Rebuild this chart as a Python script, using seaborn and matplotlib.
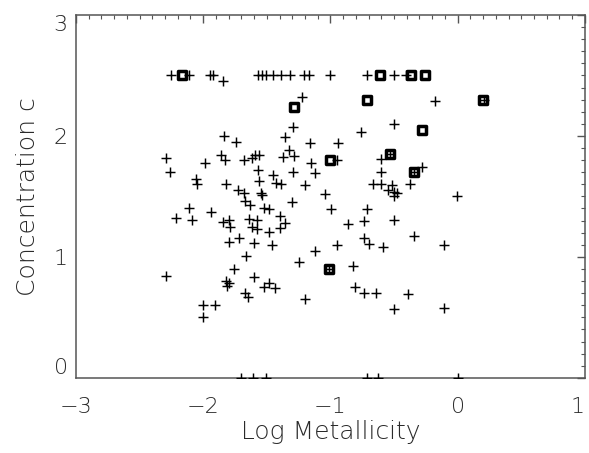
import matplotlib
matplotlib.use("Agg")
import matplotlib.pyplot as plt
import seaborn as sns
import numpy as np
from matplotlib.ticker import MultipleLocator

# ---- data ----
plus_x = [
    -2.25, -2.115, -1.95, -1.92, -1.57, -1.535, -1.505, -1.45, -1.385, -1.32,
    -1.205, -1.165, -1.00, -0.71, -0.50, -0.405, -1.846,
    -1.222, -0.175, 0.21, -0.50, -0.76, -1.296, -1.354, -1.84, -1.746,
    -1.160, -0.943, -1.322, -1.29, -1.374, -0.95, -0.531, -0.60, -1.152,
    -1.291, -1.118, -0.602, -0.346, -0.28, -1.387, -1.20, -0.662, -0.602,
    -0.518, -0.374, -0.55, -0.497, -0.48, -0.503, -0.005, -1.039, -1.301,
    -0.995, -0.712, -1.393, -1.354, -1.393, -0.861, -0.733, -0.503, -0.346,
    -0.733, -0.699, -0.950, -0.584, -0.104, -1.118, -1.244, -1.013, -0.819,
    -0.804, -0.733, -0.641, -0.393, -0.503, -0.104, -1.202,
    -2.291, -1.987, -1.859, -1.825, -1.676, -1.615, -1.590, -1.563, -2.259,
    -2.06, -2.047, -1.819, -1.571, -1.558, -1.448, -1.427, -1.728, -1.676,
    -1.545, -1.537, -1.668, -1.631, -1.519, -1.480, -2.115, -2.215, -2.086,
    -1.937, -1.846, -1.799, -1.788, -1.642, -1.576, -1.615, -1.576, -1.485,
    -1.715, -1.799, -1.597, -1.458, -1.662, -1.760, -2.291, -1.819, -1.799,
    -1.812, -1.603, -1.519, -1.480, -1.432, -1.670, -1.650, -1.998, -1.904,
    -1.998,
    -1.706, -1.606, -1.506, -0.711, -0.63, 0.0,
]
plus_y = [
    2.50, 2.50, 2.50, 2.50, 2.50, 2.50, 2.50, 2.50, 2.50, 2.50,
    2.50, 2.50, 2.50, 2.50, 2.50, 2.50, 2.45,
    2.325, 2.29, 2.30, 2.10, 2.03, 2.07, 1.99, 2.00, 1.95,
    1.94, 1.94, 1.883, 1.834, 1.828, 1.80, 1.85, 1.806, 1.773,
    1.704, 1.690, 1.704, 1.70, 1.745, 1.602, 1.594, 1.602, 1.602,
    1.594, 1.602, 1.553, 1.538, 1.53, 1.503, 1.503, 1.517, 1.453,
    1.398, 1.393, 1.337, 1.277, 1.236, 1.271, 1.294, 1.304, 1.172,
    1.153, 1.103, 1.098, 1.084, 1.098, 1.050, 0.959, 0.899, 0.924,
    0.753, 0.703, 0.703, 0.692, 0.568, 0.579, 0.648,
    1.815, 1.778, 1.842, 1.80, 1.80, 1.815, 1.842, 1.842, 1.699,
    1.641, 1.602, 1.602, 1.718, 1.629, 1.677, 1.613, 1.553, 1.530,
    1.530, 1.511, 1.464, 1.428, 1.401, 1.393, 1.401, 1.318, 1.304,
    1.373, 1.285, 1.304, 1.249, 1.313, 1.304, 1.244, 1.227, 1.208,
    1.153, 1.125, 1.112, 1.098, 1.007, 0.899, 0.844, 0.802, 0.786,
    0.758, 0.830, 0.753, 0.786, 0.739, 0.703, 0.665, 0.601, 0.601,
    0.500,
    0.0, 0.0, 0.0, 0.0, 0.0, 0.0,
]
sq_x = [-2.17, -0.61, -0.37, -0.255, -1.29, -0.71, 0.20, -0.28, -1.00, -0.53, -0.345, -1.01]
sq_y = [2.50, 2.50, 2.50, 2.50, 2.24, 2.30, 2.30, 2.05, 1.80, 1.85, 1.70, 0.90]

x_ticks = [-3, -2, -1, 0, 1]
y_ticks = [0, 1, 2, 3]
x_label = "Log Metallicity"
y_label = "Concentration c"

# ---- style ----
sns.set_style("white")
plt.rcParams["font.family"] = ["DejaVu Sans"]
plt.rcParams["font.weight"] = "light"
plt.rcParams["axes.labelweight"] = "light"
axis_col = "#555555"
text_col = "#2a2a2a"

fig = plt.figure(figsize=(5.89, 4.53), dpi=100)
ax = fig.add_axes([0.129, 0.166, 0.864, 0.801])

sns.scatterplot(x=sq_x, y=sq_y, marker="s", s=29, facecolor="white",
                edgecolor="black", linewidth=2.5, ax=ax, zorder=2, clip_on=True)
sns.scatterplot(x=plus_x, y=plus_y, marker="+", s=42, color="black",
                linewidth=1.05, ax=ax, zorder=3, clip_on=True)

ax.set_xlim(-3, 1)
ax.set_ylim(0, 3)
ax.set_xticks(x_ticks)
ax.set_yticks(y_ticks)
ax.set_xticklabels([("\u2212%d" % abs(t)) if t < 0 else str(t) for t in x_ticks])
ax.set_yticklabels([str(t) for t in y_ticks])
ax.xaxis.set_minor_locator(MultipleLocator(0.1))
ax.yaxis.set_minor_locator(MultipleLocator(0.1))

for sp in ax.spines.values():
    sp.set_visible(True)
    sp.set_color(axis_col)
    sp.set_linewidth(1.1)

ax.tick_params(which="both", direction="in", top=True, right=True,
               color=axis_col, labelcolor=text_col, labelsize=16)
ax.tick_params(which="major", length=6, width=1.0)
ax.tick_params(which="minor", length=3, width=0.8)
ax.tick_params(axis="x", which="major", pad=14)
ax.tick_params(axis="y", which="major", pad=6)

ylabs = ax.get_yticklabels()
ylabs[0].set_va("bottom")
ylabs[-1].set_va("top")
xlabs = ax.get_xticklabels()
xlabs[-1].set_ha("right")

ax.set_xlabel(x_label, fontsize=18, color=text_col, labelpad=2, fontweight="light")
ax.set_ylabel(y_label, fontsize=18, color=text_col, labelpad=10, fontweight="light")

fig.savefig("out.png", dpi=100)
